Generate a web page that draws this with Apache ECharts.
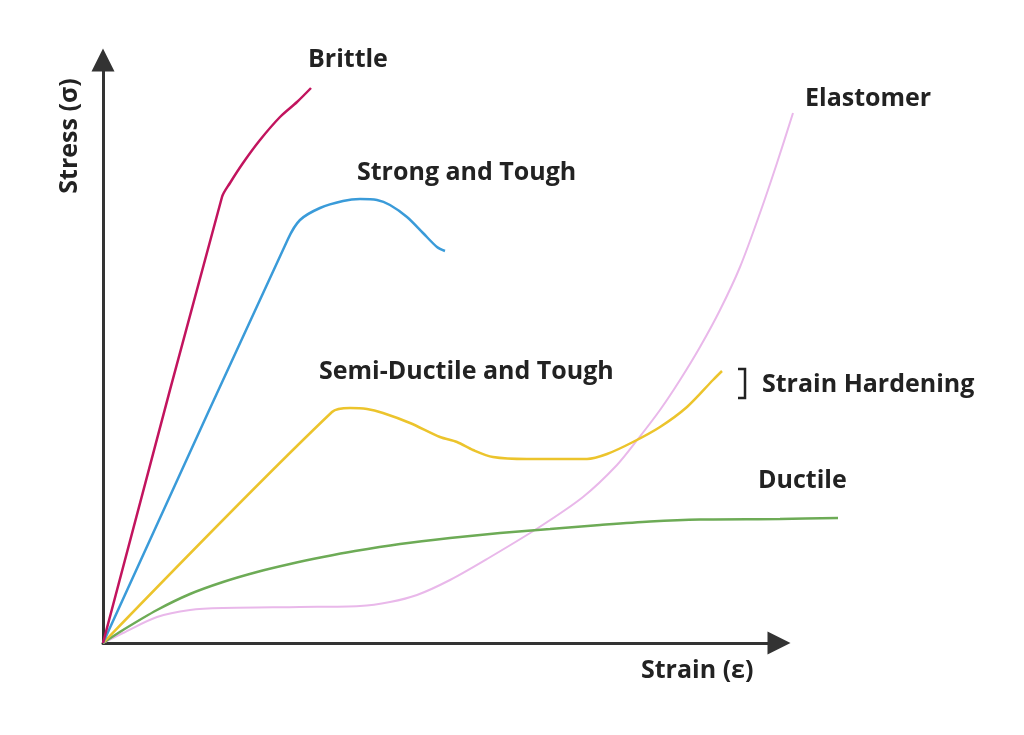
<!DOCTYPE html>
<html>
<head>
<meta charset="utf-8">
<title>Stress-strain curves</title>
<script src="https://cdn.jsdelivr.net/npm/echarts@6/dist/echarts.min.js"></script>
<style>
  html, body { margin: 0; padding: 0; background: #fff; }
  #ch-main { width: 1024px; height: 735px; }
</style>
</head>
<body>
<div id="ch-main"></div>
<script>
// curves: [strain, stress] in plot units
var brittle = [[0, 0], [119, 446], [127, 460], [140, 480], [157, 503], [177, 526], [194, 541], [208, 555]];
var strongTough = [[0, 0], [185, 404], [197, 423], [217, 435], [240, 442], [257, 444], [274, 443],
    [287, 438], [304, 426], [320, 410], [334, 396], [342, 392]];
var semiDuctile = [[0, 0], [229, 231], [247, 235], [264, 234], [280, 230], [307, 220], [337, 206],
    [354, 201], [370, 193], [390, 186], [424, 184], [484, 184], [504, 189], [530, 201], [557, 216],
    [584, 236], [610, 263], [619, 272]];
var ductile = [[0, 0], [20, 13], [54, 33], [87, 49], [120, 61], [154, 71], [187, 79], [220, 86],
    [252, 92], [297, 99], [347, 105], [397, 110], [447, 114], [497, 118], [547, 121.5], [597, 123.5],
    [677, 124], [735, 125]];
var elastomer = [[0, 0], [20, 10], [54, 26], [87, 33], [120, 35], [197, 36], [257, 37], [287, 41],
    [314, 48], [347, 63], [384, 84], [435, 115], [480, 146], [514, 178], [535, 204], [557, 233],
    [577, 263], [597, 296], [617, 333], [637, 376], [657, 430], [674, 480], [690, 530]];

var xTitle = 'Strain (ε)';
var yTitle = 'Stress (σ)';

var myChart = echarts.init(document.getElementById('ch-main'));

var FONT = 'bold 25px "Open Sans"';
function label(text, x, y) {
    return {
        type: 'text', x: x, y: y, silent: true,
        style: { text: text, font: FONT, fill: '#222', verticalAlign: 'middle' }
    };
}

function curve(name, data, color, width) {
    return {
        name: name, type: 'line', data: data,
        xAxisIndex: 1, yAxisIndex: 1,
        smooth: 0.3,
        showSymbol: false, clip: false, silent: true,
        lineStyle: { color: color, width: width }
    };
}

var axisLine = {
    show: true,
    symbol: ['none', 'triangle'],
    symbolSize: [23, 23],
    lineStyle: { color: '#333', width: 3 }
};
var hidden = { show: false };

var option = {
    animation: false,
    // grid 0 carries the drawn axes, grid 1 (same scale, wider) carries the curves
    grid: [
        { left: 103, top: 60, width: 676, height: 583 },
        { left: 103, top: 60, width: 740, height: 583 }
    ],
    xAxis: [
        { gridIndex: 0, type: 'value', min: 0, max: 676, axisLine: axisLine, axisTick: hidden,
          axisLabel: hidden, splitLine: hidden },
        { gridIndex: 1, type: 'value', min: 0, max: 740, axisLine: hidden, axisTick: hidden,
          axisLabel: hidden, splitLine: hidden }
    ],
    yAxis: [
        { gridIndex: 0, type: 'value', min: 0, max: 583, axisLine: axisLine, axisTick: hidden,
          axisLabel: hidden, splitLine: hidden },
        { gridIndex: 1, type: 'value', min: 0, max: 583, axisLine: hidden, axisTick: hidden,
          axisLabel: hidden, splitLine: hidden }
    ],
    series: [
        curve('Elastomer', elastomer, '#e9b8ea', 2),
        curve('Ductile', ductile, '#6dab56', 2.5),
        curve('Semi-Ductile and Tough', semiDuctile, '#ecc42c', 2.5),
        curve('Strong and Tough', strongTough, '#3a9bd9', 2.5),
        curve('Brittle', brittle, '#c2145e', 2.5)
    ],
    graphic: [
        label('Brittle', 308, 60),
        label('Strong and Tough', 357, 173),
        label('Semi-Ductile and Tough', 319, 372),
        label('Elastomer', 805, 99),
        label('Strain Hardening', 762, 385),
        label('Ductile', 758, 481),
        label(xTitle, 641, 671),
        {
            type: 'text', x: 70, y: 136, rotation: Math.PI / 2, silent: true,
            style: { text: yTitle, font: FONT, fill: '#222', align: 'center', verticalAlign: 'middle' }
        },
        {
            type: 'polyline', silent: true,
            shape: { points: [[738, 369], [745, 369], [745, 398], [738, 398]] },
            style: { stroke: '#222', lineWidth: 2.5, fill: null }
        }
    ]
};

myChart.setOption(option);
</script>
</body>
</html>
